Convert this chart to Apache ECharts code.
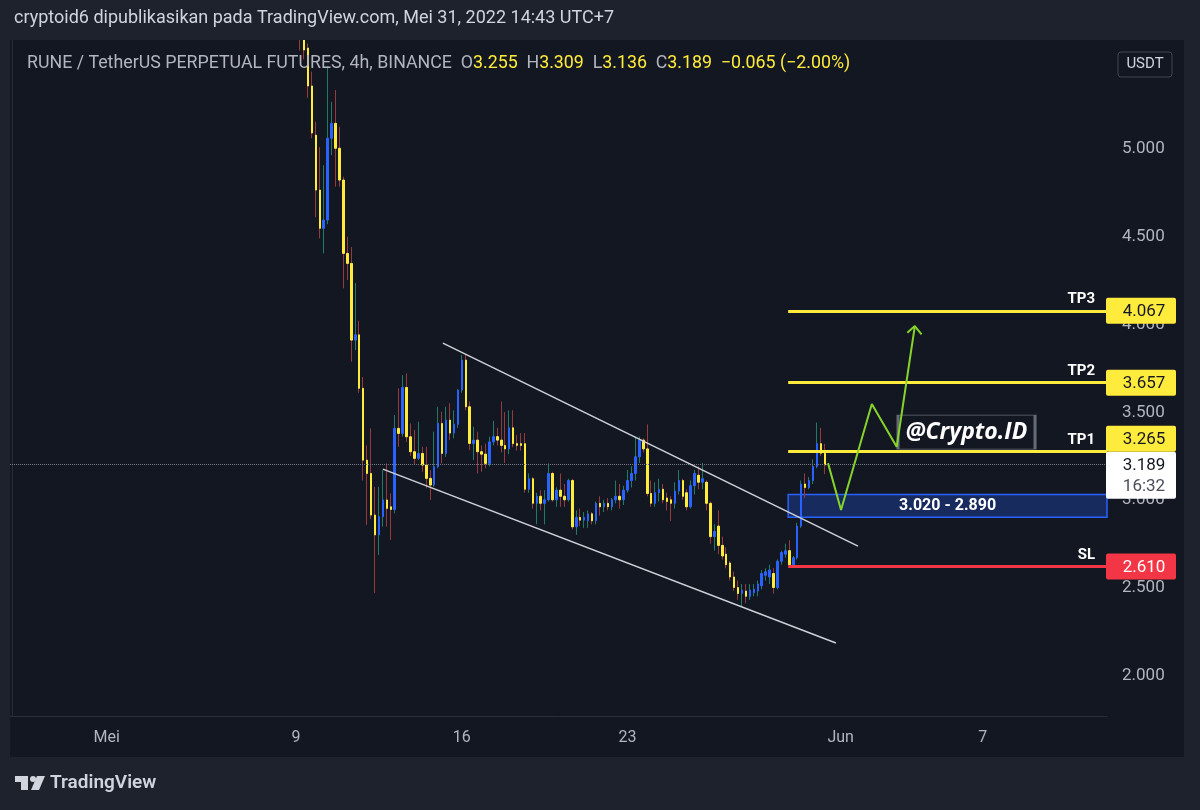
<!DOCTYPE html>
<html>
<head>
<meta charset="utf-8">
<title>RUNE / TetherUS 4h</title>
<script src="https://cdn.jsdelivr.net/npm/echarts@6.0.0/dist/echarts.min.js"></script>
<style>
html,body{margin:0;padding:0;background:#131722;overflow:hidden;}
#chart{width:1200px;height:810px;}
</style>
</head>
<body>
<div id="chart"></div>
<script>
// ================= DATA =================
const firstBarTime = Date.UTC(2022, 3, 27, 3, 0); // wall clock (UTC+7) of category 0
const barHours = 4;
const barCount = 278;
const firstCandle = 73; // category index of the first candle below

const opens = [
  5.95, 5.62, 5.564, 5.348, 5.068, 4.755, 4.537, 4.584, 5.05, 5.135,
  4.993, 4.812, 4.394, 4.337, 3.90, 3.93, 3.625, 3.216, 3.14, 2.903,
  2.79, 2.894, 2.989, 2.95, 2.935, 3.397, 3.368, 3.63, 3.349, 3.264,
  3.226, 3.254, 3.188, 3.112, 3.074, 3.178, 3.425, 3.254, 3.444, 3.37,
  3.42, 3.615, 3.786, 3.52, 3.311, 3.33, 3.264, 3.25, 3.197, 3.32,
  3.35, 3.33, 3.30, 3.28, 3.40, 3.31, 3.31, 3.31, 3.05, 3.11,
  2.97, 3.01, 2.97, 2.99, 3.14, 2.99, 3.045, 3.01, 2.99, 3.10,
  2.836, 2.89, 2.874, 2.87, 2.91, 2.87, 2.97, 2.95, 2.97, 2.95,
  2.99, 3.01, 2.99, 3.045, 3.10, 3.14, 3.235, 3.33, 3.28, 3.026,
  2.97, 3.03, 3.05, 3.00, 2.99, 2.97, 3.04, 3.10, 3.03, 2.95,
  3.07, 3.13, 3.09, 3.09, 2.97, 2.78, 2.84, 2.73, 2.68, 2.63,
  2.55, 2.49, 2.456, 2.47, 2.44, 2.46, 2.47, 2.50, 2.56, 2.55,
  2.57, 2.49, 2.64, 2.68, 2.70, 2.62, 2.66, 2.84, 3.08, 3.06,
  3.10, 3.18, 3.31, 3.255
];
const closes = [
  5.62, 5.553, 5.348, 5.08, 4.755, 4.537, 4.584, 5.05, 5.135, 4.993,
  4.812, 4.394, 4.337, 3.90, 3.93, 3.625, 3.216, 3.14, 2.903, 2.79,
  2.894, 2.989, 2.941, 2.935, 3.397, 3.368, 3.63, 3.349, 3.264, 3.226,
  3.254, 3.188, 3.112, 3.074, 3.178, 3.425, 3.254, 3.444, 3.37, 3.42,
  3.615, 3.786, 3.52, 3.311, 3.33, 3.264, 3.25, 3.197, 3.32, 3.35,
  3.33, 3.30, 3.28, 3.40, 3.31, 3.30, 3.30, 3.05, 3.11, 2.97,
  3.01, 2.97, 2.99, 3.14, 2.99, 3.045, 3.01, 2.99, 3.10, 2.836,
  2.89, 2.874, 2.89, 2.91, 2.87, 2.97, 2.95, 2.97, 2.95, 2.99,
  3.01, 2.99, 3.045, 3.10, 3.14, 3.235, 3.33, 3.28, 3.026, 2.97,
  3.03, 3.05, 2.99, 2.98, 2.97, 3.04, 3.10, 3.01, 2.95, 3.07,
  3.14, 3.09, 3.11, 2.97, 2.78, 2.81, 2.73, 2.67, 2.62, 2.55,
  2.49, 2.456, 2.475, 2.44, 2.475, 2.48, 2.51, 2.57, 2.58, 2.59,
  2.49, 2.64, 2.69, 2.70, 2.62, 2.66, 2.84, 3.08, 3.06, 3.10,
  3.18, 3.31, 3.255, 3.189
];
const lows = [
  5.55, 5.50, 5.28, 5.05, 4.60, 4.48, 4.394, 4.56, 4.954, 4.774,
  4.774, 4.195, 4.242, 3.777, 3.843, 3.60, 3.10, 2.847, 2.88, 2.458,
  2.676, 2.837, 2.837, 2.761, 2.913, 3.292, 3.35, 3.32, 3.24, 3.188,
  3.216, 3.15, 3.055, 2.989, 3.064, 3.17, 3.197, 3.235, 3.33, 3.34,
  3.40, 3.60, 3.50, 3.273, 3.216, 3.14, 3.15, 3.17, 3.18, 3.30,
  3.30, 3.26, 3.20, 3.25, 3.29, 3.27, 3.27, 3.03, 3.03, 2.94,
  2.85, 2.93, 2.85, 2.98, 2.98, 2.95, 2.95, 2.95, 2.98, 2.82,
  2.79, 2.84, 2.83, 2.83, 2.85, 2.85, 2.90, 2.92, 2.93, 2.93,
  2.97, 2.94, 2.96, 3.03, 3.06, 3.10, 3.20, 3.26, 3.01, 2.95,
  2.95, 2.98, 2.97, 2.93, 2.87, 2.94, 3.02, 2.99, 2.93, 2.94,
  3.02, 3.05, 3.05, 2.93, 2.74, 2.70, 2.68, 2.65, 2.60, 2.53,
  2.47, 2.42, 2.38, 2.40, 2.42, 2.44, 2.44, 2.48, 2.53, 2.51,
  2.455, 2.48, 2.62, 2.66, 2.61, 2.61, 2.65, 2.83, 3.00, 3.05,
  3.08, 3.17, 3.24, 3.136
];
const highs = [
  6.05, 5.70, 5.59, 5.43, 5.144, 5.00, 4.897, 5.46, 5.258, 5.325,
  5.116, 4.831, 4.489, 4.43, 4.225, 4.01, 3.69, 3.30, 3.397, 3.064,
  3.064, 3.159, 3.197, 3.027, 3.473, 3.625, 3.70, 3.71, 3.425, 3.387,
  3.435, 3.292, 3.292, 3.159, 3.378, 3.52, 3.492, 3.52, 3.54, 3.50,
  3.62, 3.815, 3.815, 3.55, 3.406, 3.378, 3.30, 3.31, 3.35, 3.44,
  3.40, 3.55, 3.49, 3.50, 3.50, 3.36, 3.37, 3.37, 3.14, 3.12,
  3.03, 3.045, 3.045, 3.197, 3.15, 3.06, 3.14, 3.08, 3.11, 3.11,
  2.93, 2.94, 2.92, 2.93, 2.92, 2.98, 3.01, 2.99, 3.00, 3.00,
  3.10, 3.08, 3.07, 3.16, 3.18, 3.35, 3.35, 3.34, 3.42, 3.10,
  3.09, 3.11, 3.08, 3.03, 3.01, 3.09, 3.16, 3.11, 3.05, 3.10,
  3.16, 3.18, 3.20, 3.10, 2.98, 2.85, 2.93, 2.78, 2.72, 2.64,
  2.58, 2.53, 2.51, 2.51, 2.51, 2.51, 2.53, 2.59, 2.60, 2.62,
  2.60, 2.65, 2.70, 2.74, 2.76, 2.67, 2.86, 3.10, 3.14, 3.12,
  3.22, 3.43, 3.40, 3.309
];

const xTickDates = ['2022-05-01 03:00', '2022-05-09 03:00', '2022-05-16 03:00', '2022-05-23 03:00', '2022-06-01 03:00', '2022-06-07 03:00'];
const xTickLabels = ['Mei', '9', '16', '23', 'Jun', '7'];
const yTickValues = [2.0, 2.5, 3.0, 3.5, 4.0, 4.5, 5.0];
const yMin = 1.758, yMax = 5.61;

// drawings (x = bar index, y = price)
const upperChannel = [[109.2, 3.883], [214.4, 2.726]];
const lowerChannel = [[94.0, 3.165], [208.8, 2.174]];
const projection = [[206.8, 3.199], [210.1, 2.932], [217.9, 3.536], [224.2, 3.292], [228.8, 3.980]];
const arrowHead = [[226.9, 3.942], [228.8, 3.980], [230.5, 3.933]];
const levelStartBar = 196.7;
const targetNames = ['TP3', 'TP2', 'TP1'];
const targetValues = [4.067, 3.657, 3.265];
const stopName = 'SL';
const stopValue = 2.610;
const zoneTop = 3.020, zoneBottom = 2.890;
const watermarkText = '@Crypto.ID';
const watermarkPos = [241.9, 3.376];
const lastPrice = 3.189;
const countdown = '16:32';
const headerText = 'cryptoid6 dipublikasikan pada TradingView.com, Mei 31, 2022 14:43 UTC+7';
const symbolText = 'RUNE / TetherUS PERPETUAL FUTURES, 4h, BINANCE';
const changeText = '\u22120.065 (\u22122.00%)';

// ================= STYLE =================
const BG = '#131722', FRAME = '#1e222d', GRIDLINE = '#2a2e39';
const UP = '#2962ff', DOWN = '#ffeb3b';
const WICK_UP = '#1f7a68', WICK_DOWN = '#973a3e';
const TXT = '#b2b5be', FONT = 'Roboto, "Liberation Sans", sans-serif';

function pad(n) { return (n < 10 ? '0' : '') + n; }
const categories = [];
for (let k = 0; k < barCount; k++) {
  const d = new Date(firstBarTime + k * barHours * 3600e3);
  categories.push(d.getUTCFullYear() + '-' + pad(d.getUTCMonth() + 1) + '-' + pad(d.getUTCDate()) + ' ' + pad(d.getUTCHours()) + ':00');
}
const wickData = opens.map((o, k) => [firstCandle + k, o, closes[k], lows[k], highs[k]]);
const bodyData = opens.map((o, k) => [firstCandle + k, o, closes[k], Math.min(o, closes[k]), Math.max(o, closes[k])]);
const xEnd = barCount - 0.5;

const levelLines = targetValues.map((v, k) => [
  {coord: [levelStartBar, v], lineStyle: {color: DOWN, width: 2.8, type: 'solid'}, label: {formatter: targetNames[k]}},
  {coord: [xEnd, v]}
]);
levelLines.push([
  {coord: [levelStartBar, stopValue], lineStyle: {color: '#f23645', width: 2.8, type: 'solid'}, label: {formatter: stopName}},
  {coord: [xEnd, stopValue]}
]);

const chart = echarts.init(document.getElementById('chart'), null, {renderer: 'canvas'});
const option = {
  animation: false,
  backgroundColor: BG,
  textStyle: {fontFamily: FONT},
  grid: {left: 10, right: 93, top: 40, bottom: 94},
  xAxis: [
    {
      type: 'category', data: categories, boundaryGap: true,
      axisLine: {show: true, lineStyle: {color: GRIDLINE}},
      axisTick: {show: false}, splitLine: {show: false},
      axisLabel: {
        interval: (idx, val) => xTickDates.indexOf(val) >= 0,
        formatter: (val) => { const j = xTickDates.indexOf(val); return j >= 0 ? xTickLabels[j] : ''; },
        color: TXT, fontSize: 16, margin: 14, fontFamily: FONT, hideOverlap: false
      }
    },
    {type: 'value', min: -0.5, max: xEnd, show: false}
  ],
  yAxis: [{
    type: 'value', position: 'right', min: yMin, max: yMax, scale: true,
    axisLine: {show: true, lineStyle: {color: GRIDLINE}},
    axisTick: {show: false}, splitLine: {show: false},
    axisLabel: {
      customValues: yTickValues,
      formatter: v => '{t|' + v.toFixed(3) + '}',
      margin: 15,
      rich: {t: {color: TXT, fontSize: 17, fontFamily: FONT, padding: [4, 0, 0, 0]}}
    }
  }],
  series: [
    {
      type: 'candlestick', name: 'wicks', xAxisIndex: 0, yAxisIndex: 0,
      data: wickData, encode: {x: 0, y: [1, 2, 3, 4]}, barWidth: 1, clip: true, silent: true, z: 3,
      itemStyle: {color: WICK_UP, color0: WICK_DOWN, borderColor: WICK_UP, borderColor0: WICK_DOWN, borderWidth: 1},
      markLine: {
        symbol: 'none', silent: true, animation: false,
        data: [{yAxis: lastPrice}],
        lineStyle: {type: 'dotted', color: '#787b86', width: 1},
        label: {show: false}
      }
    },
    {
      type: 'candlestick', name: 'bodies', xAxisIndex: 0, yAxisIndex: 0,
      data: bodyData, encode: {x: 0, y: [1, 2, 3, 4]}, barWidth: 2, clip: true, silent: true, z: 4,
      itemStyle: {color: UP, color0: DOWN, borderColor: UP, borderColor0: DOWN, borderWidth: 1}
    },
    {
      type: 'line', xAxisIndex: 1, yAxisIndex: 0, data: upperChannel, symbol: 'none', silent: true, z: 5,
      lineStyle: {color: '#cfd1d8', width: 1.5}
    },
    {
      type: 'line', xAxisIndex: 1, yAxisIndex: 0, data: lowerChannel, symbol: 'none', silent: true, z: 5,
      lineStyle: {color: '#cfd1d8', width: 1.5}
    },
    {
      type: 'line', xAxisIndex: 1, yAxisIndex: 0, data: [], symbol: 'none', silent: true, z: 6,
      markArea: {
        silent: true,
        itemStyle: {color: 'rgba(41,98,255,0.28)', borderColor: '#2962ff', borderWidth: 1.5},
        label: {show: true, position: 'inside', color: '#ffffff', fontWeight: 'bold', fontSize: 16, fontFamily: FONT,
                formatter: zoneTop.toFixed(3) + ' - ' + zoneBottom.toFixed(3)},
        data: [[{coord: [levelStartBar, zoneTop]}, {coord: [xEnd, zoneBottom]}]]
      },
      markLine: {
        symbol: 'none', silent: true,
        lineStyle: {type: 'solid'},
        label: {show: true, position: 'insideEndTop', color: '#ffffff', fontWeight: 'bold', fontSize: 15, fontFamily: FONT, distance: [12, 4]},
        data: levelLines
      }
    },
    {
      type: 'line', xAxisIndex: 1, yAxisIndex: 0, data: projection, symbol: 'none', silent: true, z: 7,
      lineStyle: {color: '#86d42a', width: 2}
    },
    {
      type: 'line', xAxisIndex: 1, yAxisIndex: 0, data: arrowHead, symbol: 'none', silent: true, z: 7,
      lineStyle: {color: '#86d42a', width: 2}
    },
    {
      type: 'line', xAxisIndex: 1, yAxisIndex: 0, data: [], symbol: 'none', silent: true, z: 9,
      markPoint: {
        silent: true,
        data: [{
          coord: watermarkPos, symbol: 'rect', symbolSize: [137, 34],
          itemStyle: {color: BG, borderColor: '#666b78', borderWidth: 1.5},
          label: {show: true, position: 'inside', formatter: watermarkText, color: '#ffffff', fontSize: 23,
                  fontWeight: 'bold', fontStyle: 'italic', fontFamily: '"Open Sans", Roboto, sans-serif'}
        }]
      }
    }
  ]
};
chart.setOption(option);

// ---- overlay: frame, header, price tags ----
const yPx = v => chart.convertToPixel({yAxisIndex: 0}, v);
const axisX = chart.convertToPixel({xAxisIndex: 1}, xEnd);
const g = [];
const Z = 50;
g.push({type: 'rect', z: Z, shape: {x: 0, y: 0, width: 1200, height: 40}, style: {fill: FRAME}});
g.push({type: 'rect', z: Z, shape: {x: 0, y: 757, width: 1200, height: 53}, style: {fill: FRAME}});
g.push({type: 'rect', z: Z, shape: {x: 0, y: 40, width: 10, height: 717}, style: {fill: FRAME}});
g.push({type: 'rect', z: Z, shape: {x: 1184, y: 40, width: 16, height: 717}, style: {fill: FRAME}});
g.push({type: 'text', z: Z + 1, x: 14, y: 18, style: {text: headerText, fill: '#d1d4dc', font: '18px ' + FONT, verticalAlign: 'middle'}});

const n = opens.length - 1;
g.push({type: 'text', z: Z + 1, x: 27, y: 64, style: {
  text: '{g|' + symbolText + '  O}{y|' + opens[n].toFixed(3) + '}{g|  H}{y|' + highs[n].toFixed(3) +
        '}{g|  L}{y|' + lows[n].toFixed(3) + '}{g|  C}{y|' + closes[n].toFixed(3) + '}{y|  ' + changeText + '}',
  verticalAlign: 'middle',
  rich: {g: {fill: TXT, font: '17.8px ' + FONT}, y: {fill: DOWN, font: '17.8px ' + FONT}}
}});
// USDT box
g.push({type: 'rect', z: Z, shape: {x: 1118, y: 52, width: 54, height: 25, r: 3}, style: {fill: 'none', stroke: '#434651', lineWidth: 1}});
g.push({type: 'text', z: Z + 1, x: 1145, y: 64.5, style: {text: 'USDT', fill: '#d1d4dc', font: '15px ' + FONT, align: 'center', verticalAlign: 'middle'}});

// last price tag
const lastY = yPx(lastPrice);
const lastTop = lastY - 13;
g.push({type: 'rect', z: Z + 2, shape: {x: axisX - 1, y: lastTop, width: 70, height: 47, r: 2}, style: {fill: '#ffffff'}});
g.push({type: 'text', z: Z + 3, x: axisX + 37, y: lastY + 1, style: {text: lastPrice.toFixed(3), fill: BG, font: '17px ' + FONT, align: 'center', verticalAlign: 'middle'}});
g.push({type: 'text', z: Z + 3, x: axisX + 37, y: lastY + 22, style: {text: countdown, fill: '#4a4e5a', font: '17px ' + FONT, align: 'center', verticalAlign: 'middle'}});

const tagList = targetValues.map(v => ({v: v, bg: DOWN, fg: BG})).concat([{v: stopValue, bg: '#f23645', fg: '#ffffff'}]);
tagList.forEach(t => {
  let cy = yPx(t.v);
  if (cy + 13 > lastTop && cy - 13 < lastTop + 47) cy = lastTop - 13;
  g.push({type: 'rect', z: Z + 2, shape: {x: axisX - 1, y: cy - 13, width: 70, height: 26, r: 2}, style: {fill: t.bg}});
  g.push({type: 'text', z: Z + 3, x: axisX + 37, y: cy + 1, style: {text: t.v.toFixed(3), fill: t.fg, font: '17px ' + FONT, align: 'center', verticalAlign: 'middle'}});
});

// TradingView logo + wordmark
g.push({type: 'rect', z: Z + 1, shape: {x: 15, y: 776, width: 13, height: 6}, style: {fill: '#d1d4dc'}});
g.push({type: 'rect', z: Z + 1, shape: {x: 21, y: 776, width: 7, height: 14}, style: {fill: '#d1d4dc'}});
g.push({type: 'circle', z: Z + 1, shape: {cx: 33, cy: 779, r: 3}, style: {fill: '#d1d4dc'}});
g.push({type: 'polygon', z: Z + 1, shape: {points: [[37, 776], [45, 776], [39, 790], [31, 790]]}, style: {fill: '#d1d4dc'}});
g.push({type: 'text', z: Z + 1, x: 50, y: 783, style: {text: 'TradingView', fill: '#d1d4dc', font: '600 19px ' + FONT, verticalAlign: 'middle'}});

chart.setOption({graphic: g});
</script>
</body>
</html>
